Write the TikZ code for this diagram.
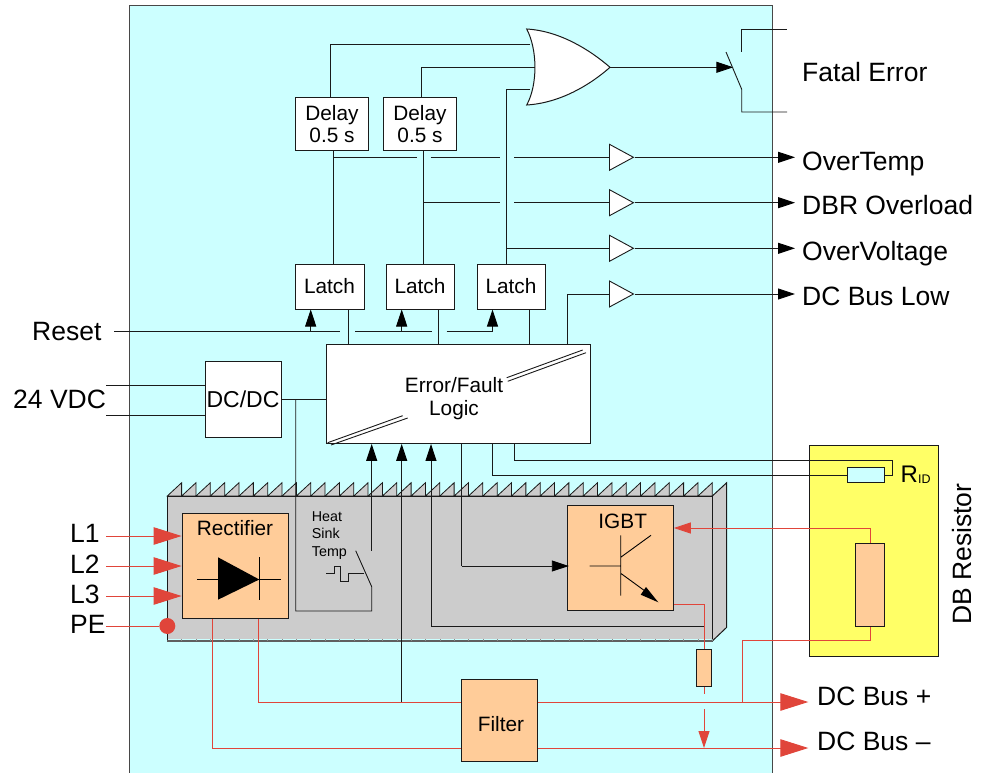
\documentclass[tikz,border=0pt]{standalone}
\usepackage{fontspec}
\setmainfont{Liberation Sans}
\usetikzlibrary{arrows.meta,shapes.geometric}
\definecolor{panel}{HTML}{CCFFFF}
\definecolor{dbyel}{HTML}{FFFF66}
\definecolor{sink}{HTML}{CCCCCC}
\definecolor{peach}{HTML}{FFCC99}
\definecolor{ink}{HTML}{1A1A1A}
\definecolor{powred}{HTML}{E0453A}
\newcommand{\fz}[1]{\fontsize{#1}{#1}\selectfont}
\tikzset{
  wire/.style={draw=ink,line width=0.9pt},
  redw/.style={color=powred,line width=0.9pt},
  tipblk/.style={-{Triangle[length=17pt,width=11pt,color=black]}},
  tipred/.style={-{Triangle[length=17pt,width=11pt]}},
  tipbig/.style={-{Triangle[length=28pt,width=17.5pt]}},
  whitebox/.style={draw=ink,line width=1pt,fill=white,inner sep=0pt,align=center,font=\fz{20.8},text=black},
  peachbox/.style={draw=ink,line width=1pt,fill=peach,inner sep=0pt,font=\fz{20.8},text=black},
  buf/.style={draw=ink,line width=0.9pt,fill=white,isosceles triangle,isosceles triangle stretches,
    minimum width=26pt,minimum height=24pt,inner sep=0pt,anchor=lower side},
  lab/.style={inner sep=0pt,anchor=base west,font=\fz{26.5},text=black},
  small/.style={inner sep=0pt,anchor=base west,font=\fz{14.3},text=black},
  mid/.style={inner sep=0pt,anchor=base,font=\fz{20.8},text=black},
}
\begin{document}
\begin{tikzpicture}[x=1pt,y=-1pt]
\useasboundingbox (0,0) rectangle (982,773);
% cabinet panel
\fill[panel] (129,6) rectangle (772,773);
\draw[draw=ink!80,line width=1pt] (129,773) -- (129,6) -- (772,6) -- (772,773);
% DB resistor panel
\draw[draw=ink,line width=1pt,fill=dbyel] (809.3,445) rectangle (938,656.3);
% heat sink
\def\pp{14.342}
\foreach \i in {0,...,37}{
  \draw[draw=ink,line width=0.8pt,fill=sink] ({167.3+\i*\pp},496) -- ({167.3+(\i+1)*\pp},482.7) -- ({167.3+(\i+1)*\pp},496) -- cycle;
}
\draw[draw=ink,line width=1pt,fill=sink] (712.3,496) -- (726.7,482.7) -- (726.7,627.3) -- (712.3,641) -- cycle;
\fill[sink] (167.3,496) rectangle (712.3,639);
\draw[draw=ink,line width=1pt] (167.3,641) -- (167.3,496) -- (712.3,496) -- (712.3,641);
\draw[draw=ink!70,line width=1.3pt] (167.3,641) -- (712.3,641);
\foreach \i in {0,...,37}{
  \draw[draw=ink!50,line width=0.5pt] ({167.3+(\i+1)*\pp},640.5) -- ({167.3+(\i+1)*\pp},639);
}
% boxes
\node[whitebox,minimum width=73.4pt,minimum height=52.7pt] (delay1) at (332,123.7) {\fz{20.8}Delay\\[1pt]0.5 s};
\node[whitebox,minimum width=72.6pt,minimum height=52.7pt] (delay2) at (420,123.7) {\fz{20.8}Delay\\[1pt]0.5 s};
\node[whitebox,minimum width=69pt,minimum height=45pt] (latch1) at (329.5,286.5) {Latch};
\node[whitebox,minimum width=68pt,minimum height=45pt] (latch2) at (420,286.5) {Latch};
\node[whitebox,minimum width=68pt,minimum height=45pt] (latch3) at (511,286.5) {Latch};
\node[whitebox,minimum width=263.5pt,minimum height=98.5pt] (logic) at (458.7,394.2) {};
\node[whitebox,minimum width=76pt,minimum height=75.6pt] (dcdc) at (243,399.5) {\fz{23}DC/DC};
\node[peachbox,minimum width=106.3pt,minimum height=105pt] (rect) at (235.2,565.8) {};
\node[peachbox,minimum width=106pt,minimum height=105.3pt] (igbt) at (620.3,558.3) {};
\node[peachbox,minimum width=76.4pt,minimum height=82.4pt] (filter) at (499.5,720.5) {};
\node[peachbox,minimum width=29.3pt,minimum height=83.3pt] (dbres) at (869.7,584.7) {};
\node[peachbox,minimum width=15pt,minimum height=37pt] (shunt) at (703.5,667.8) {};
\node[draw=ink,line width=1pt,fill=panel,inner sep=0pt,minimum width=37pt,minimum height=15pt] (rid) at (865.8,475.2) {};
% box labels
\node[mid] (tlogic1) at (454,392.3) {Error/Fault};
\node[mid] (tlogic2) at (454,415.5) {Logic};
\node[mid] (trect) at (235,535) {Rectifier};
\node[mid] (tigbt) at (622.7,528) {IGBT};
\node[mid] (tfilter) at (501,731.7) {Filter};
\node[small] (theat) at (311.7,521) {Heat};
\node[small] (tsink) at (311.7,538.7) {Sink};
\node[small] (ttemp) at (311.7,556.7) {Temp};
% logic diagonals
\draw[draw=ink,line width=0.9pt] (327.7,442.7) -- (402.7,415.7) (331,445) -- (407.7,418);
\draw[draw=ink,line width=0.9pt] (506.7,377.7) -- (582.7,350) (507.7,381.3) -- (586,352.7);
% OR gate
\coordinate (orin1) at (530,44);
\coordinate (orin2) at (535,67.3);
\coordinate (orin3) at (530,89.3);
\coordinate (ortip) at (610,67.3);
\draw[draw=ink,line width=1pt,fill=white] (526.7,29) .. controls (560,31) and (590,50) .. (ortip) .. controls (590,85) and (560,103) .. (526.7,105) .. controls (537.7,85) and (537.7,50) .. (526.7,29) -- cycle;
% buffers
\node[buf] (buf1) at (609,157.3) {};
\node[buf] (buf2) at (609,202.7) {};
\node[buf] (buf3) at (609,248.3) {};
\node[buf] (buf4) at (609,294) {};
% delay to OR gate
\coordinate (d1u) at (330.7,0);
\coordinate (d2u) at (421.7,0);
\draw[wire] (delay1.north -| d1u) -- (d1u |- orin1) -- (orin1);
\draw[wire] (delay2.north -| d2u) -- (d2u |- orin2) -- (orin2);
% latch to delay
\coordinate (v1) at (333.7,0);
\coordinate (v2) at (423.5,0);
\coordinate (v3) at (506.7,0);
\draw[wire] (delay1.south -| v1) -- (latch1.north -| v1);
\draw[wire] (delay2.south -| v2) -- (latch2.north -| v2);
\draw[wire] (orin3) -- (orin3 -| v3) -- (latch3.north -| v3);
% buffer inputs with crossings
\coordinate (g1) at (417.3,0);\coordinate (g2) at (430.7,0);
\coordinate (g3) at (500,0);\coordinate (g4) at (514,0);
\draw[wire] (buf1.lower side -| v1) -- (buf1.lower side -| g1);
\draw[wire] (buf1.lower side -| g2) -- (buf1.lower side -| g3);
\draw[wire] (buf1.lower side -| g4) -- (buf1.lower side);
\draw[wire] (buf2.lower side -| v2) -- (buf2.lower side -| g3);
\draw[wire] (buf2.lower side -| g4) -- (buf2.lower side);
\draw[wire] (buf3.lower side -| v3) -- (buf3.lower side);
\coordinate (v4) at (567.3,0);
\draw[wire] (logic.north -| v4) -- (buf4.lower side -| v4) -- (buf4.lower side);
% outputs
\coordinate (xout) at (795,0);
\foreach \b in {buf1,buf2,buf3,buf4}{
  \draw[wire,tipblk] (\b.apex) -- (\b.apex -| xout);
}
% fatal error relay
\coordinate (rtip) at (733.3,67.3);
\coordinate (ra) at (726,52);\coordinate (rb) at (741.7,89.3);
\coordinate (rc) at (741.7,112);\coordinate (rd) at (787,112);
\coordinate (re) at (741.7,52);\coordinate (rf) at (741.7,29);\coordinate (rg) at (787,29);
\draw[wire,tipblk] (ortip) -- (rtip);
\draw[wire] (ra) -- (rb) -- (rc) -- (rd);
\draw[wire] (re) -- (rf) -- (rg);
% reset line
\coordinate (rs0) at (114,331.5);
\coordinate (rg1) at (340,331.5);\coordinate (rg2) at (355,331.5);
\coordinate (rg3) at (431.5,331.5);\coordinate (rg4) at (446.5,331.5);
\coordinate (l1a) at (310.7,331.5);\coordinate (l2a) at (401.7,331.5);\coordinate (l3a) at (492.5,331.5);
\draw[wire] (rs0) -- (rg1);
\draw[wire] (rg2) -- (rg3);
\draw[wire] (rg4) -- (l3a);
\draw[wire,tipblk] (l1a) -- (l1a |- latch1.south);
\draw[wire,tipblk] (l2a) -- (l2a |- latch2.south);
\draw[wire,tipblk] (l3a) -- (l3a |- latch3.south);
% latch down to logic
\coordinate (c1) at (348.7,0);\coordinate (c2) at (438.7,0);\coordinate (c3) at (529.7,0);
\draw[wire] (latch1.south -| c1) -- (logic.north -| c1);
\draw[wire] (latch2.south -| c2) -- (logic.north -| c2);
\draw[wire] (latch3.south -| c3) -- (logic.north -| c3);
% 24 VDC
\coordinate (dc1) at (106,385);\coordinate (dc2) at (106,415);
\draw[wire] (dc1) -- (dc1 -| dcdc.west);
\draw[wire] (dc2) -- (dc2 -| dcdc.west);
\draw[wire] (dcdc.east) -- (dcdc.east -| logic.west);
% thermal switch
\coordinate (sw1) at (295.7,611);\coordinate (sw2) at (371.7,611);
\coordinate (sw3) at (371.7,586.7);\coordinate (sw4) at (355.7,550.7);
\coordinate (sw5) at (371.7,550.7);
\draw[wire] (dcdc.east -| sw1) -- (sw1) -- (sw2) -- (sw3) -- (sw4);
\draw[wire,tipblk] (sw5) -- (sw5 |- logic.south);
\draw[draw=ink,line width=0.9pt] (326,573.7) -- (334,573.7) -- (334,566) -- (340.7,566) -- (340.7,581.3) -- (348.7,581.3) -- (348.7,573.7) -- (364,573.7);
% sense lines to logic
\coordinate (dcp) at (401.7,702);
\draw[wire,tipblk] (dcp) -- (dcp |- logic.south);
\coordinate (sn1) at (431,626);\coordinate (sn2) at (704,626);
\draw[wire,tipblk] (sn1) -- (sn1 |- logic.south);
\draw[wire] (sn1) -- (sn2);
% gate drive
\coordinate (gd) at (461.5,566);
\draw[wire] (logic.south -| gd) -- (gd);
\draw[wire,tipblk] (gd) -- ([xshift=2pt]gd -| igbt.west);
% RID lines
\coordinate (r1a) at (492.5,475.2);\coordinate (r2a) at (514.3,460.7);\coordinate (r2b) at (892.3,460.7);
\draw[wire] (logic.south -| r1a) -- (r1a) -- (rid.west);
\draw[wire] (logic.south -| r2a) -- (r2a) -- (r2b) -- (r2b |- rid.east) -- (rid.east);
% rectifier symbol
\coordinate (da) at (218,557.3);\coordinate (db) at (218,599.7);\coordinate (dk) at (259.3,579.5);
\fill[black] (da) -- (dk) -- (db) -- cycle;
\draw[draw=black,line width=0.8pt] (197.3,579.5) -- (280.7,579.5) (259.3,557) -- (259.3,600);
% transistor symbol
\draw[draw=black,line width=0.9pt] (620.7,535.3) -- (620.7,595.7) (589.7,566) -- (620.7,566) (620.7,557.3) -- (651,535.3) (620.7,573.3) -- (645,591);
\fill[black] (658.3,602.3) -- (646,587) -- (640.7,594.7) -- cycle;
% mains inputs
\coordinate (l1s) at (106,536);\coordinate (l2s) at (106,566);\coordinate (l3s) at (106,596);\coordinate (pes) at (106,626);
\draw[redw,tipbig] (l1s) -- (l1s -| rect.west);
\draw[redw,tipbig] (l2s) -- (l2s -| rect.west);
\draw[redw,tipbig] (l3s) -- (l3s -| rect.west);
\node[circle,fill=powred,inner sep=0pt,minimum size=16pt] (pe) at (167.3,626) {};
\draw[redw] (pes) -- (pe);
% DC bus
\coordinate (rp) at (258,702);\coordinate (rm) at (212,748);
\coordinate (busp) at (808.3,702);\coordinate (busm) at (808.3,748);
\draw[redw] (rect.south -| rp) -- (rp) -- (rp -| filter.west);
\draw[redw] (rect.south -| rm) -- (rm) -- (rm -| filter.west);
\draw[redw,tipbig] (rp -| filter.east) -- (busp);
\draw[redw,tipbig] (rm -| filter.east) -- (busm);
% DB resistor wiring
\coordinate (dbt) at (870,528);\coordinate (dbb) at (870,640);\coordinate (dbl) at (742,640);
\draw[redw,tipred] (dbres.north -| dbt) -- (dbt) -- (dbt -| igbt.east);
\draw[redw] (dbres.south -| dbt) -- (dbb) -- (dbl) -- (dbl |- rp);
% shunt
\coordinate (sh) at (704,604);\coordinate (sh2) at (704,694);\coordinate (sh3) at (704,709.3);\coordinate (sh4) at (704,748);
\draw[redw] (sh -| igbt.east) -- (sh) -- (sh |- shunt.north);
\draw[redw] (shunt.south -| sh) -- (sh2);
\draw[redw,tipred] (sh3) -- (sh4);
% outer labels
\node[lab] (lfatal) at (802,81.7) {Fatal Error};
\node[lab] (lot) at (802,170) {OverTemp};
\node[lab] (ldbr) at (802,214) {DBR Overload};
\node[lab] (lov) at (802,260.7) {OverVoltage};
\node[lab] (ldcl) at (802,305) {DC Bus Low};
\node[lab] (lbp) at (817,705) {DC Bus +};
\node[lab] (lbm) at (817,750.3) {DC Bus –};
\node[lab] (lreset) at (32,340) {Reset};
\node[lab] (l24) at (13,408.7) {24 VDC};
\node[lab] (ll1) at (70,542.7) {L1};
\node[lab] (ll2) at (70,573) {L2};
\node[lab] (ll3) at (70,603) {L3};
\node[lab] (lpe) at (70,633) {PE};
\node[lab,font=\fz{24}] (lrid) at (900.5,482) {R\raisebox{-1.5pt}{\fz{12.5}ID}};
\node[lab,rotate=90] (ldb) at (971,625) {DB Resistor};
\end{tikzpicture}
\end{document}
